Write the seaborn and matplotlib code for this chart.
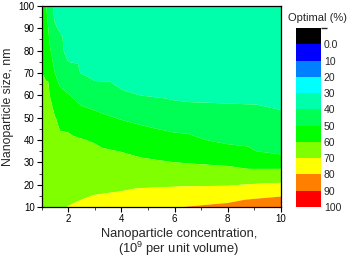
import numpy as np
import matplotlib
matplotlib.use("Agg")
import matplotlib.pyplot as plt
import matplotlib.tri as mtri
import seaborn as sns
from matplotlib.colors import ListedColormap, BoundaryNorm
from matplotlib.ticker import MultipleLocator
import matplotlib.colorbar as mcolorbar

# ---- data ----
concentration = [1, 1.25, 1.5, 2, 3, 4, 6, 8, 10]          # 10^9 per unit volume
size_nm = [10, 15, 20, 25, 30, 35, 40, 50, 60, 70, 80, 90, 100]
optimal_pct = [
    [68.0, 67.5, 68.0, 70.2, 72.0, 75.0, 79.3, 83.1, 90.3],   # 10 nm
    [67.5, 67.0, 67.0, 68.3, 70.2, 71.2, 73.5, 74.5, 79.3],   # 15
    [67.0, 66.5, 66.0, 66.8, 68.0, 68.3, 69.2, 69.5, 71.2],   # 20
    [66.5, 66.0, 65.0, 65.3, 65.8, 65.5, 64.4, 63.5, 63.5],   # 25
    [66.0, 65.5, 64.0, 64.0, 63.7, 62.6, 60.0, 58.3, 55.0],   # 30
    [65.5, 64.8, 63.3, 62.5, 61.5, 59.8, 56.5, 52.5, 48.0],   # 35
    [65.0, 64.0, 62.5, 61.8, 59.3, 56.5, 52.5, 48.5, 46.5],   # 40
    [63.5, 62.5, 60.3, 56.5, 52.6, 49.3, 45.0, 43.5, 41.3],   # 50
    [62.0, 61.5, 55.0, 50.6, 44.5, 41.0, 38.5, 38.0, 37.5],   # 60
    [60.1, 59.0, 50.0, 42.5, 37.5, 37.2, 36.0, 35.5, 35.0],   # 70
    [59.3, 53.0, 45.5, 37.5, 36.5, 35.0, 34.0, 33.5, 33.0],   # 80
    [58.5, 50.0, 41.0, 36.5, 34.5, 33.5, 32.5, 32.0, 31.5],   # 90
    [57.5, 47.0, 37.0, 35.0, 33.0, 32.5, 31.5, 31.0, 30.5],   # 100
]
levels = [-10, 0, 10, 20, 30, 40, 50, 60, 70, 80, 90, 100]
level_labels = ["0.0", "10", "20", "30", "40", "50", "60", "70", "80", "90", "100"]
level_colors = ["#000000", "#0000FF", "#0080FF", "#00FFFF", "#00FFAA", "#00FF55",
                "#00FF00", "#80FF00", "#FFFF00", "#FF8000", "#FF0000"]

# ---- style ----
sns.set_theme(style="ticks")
plt.rcParams["font.family"] = ["Liberation Sans", "DejaVu Sans"]
plt.rcParams["mathtext.fontset"] = "custom"
plt.rcParams["mathtext.rm"] = "Liberation Sans"
plt.rcParams["mathtext.it"] = "Liberation Sans:italic"

fig = plt.figure(figsize=(3.5, 2.6), dpi=100)
ax = fig.add_axes([41.6 / 350, 53 / 260, (281 - 41.6) / 350, (207 - 6) / 260])

X, Y = np.meshgrid(concentration, size_nm)
Z = np.array(optimal_pct)
cmap = ListedColormap(level_colors)
norm = BoundaryNorm(levels, cmap.N)

# linear interpolation of the read grid done in log-concentration space
tri_log = mtri.Triangulation(np.log10(X.ravel()), Y.ravel())
refiner = mtri.UniformTriRefiner(tri_log)
interp = mtri.LinearTriInterpolator(tri_log, Z.ravel())
tri_ref, z_ref = refiner.refine_field(Z.ravel(), triinterpolator=interp, subdiv=3)
tri_plot = mtri.Triangulation(10 ** tri_ref.x, tri_ref.y, tri_ref.triangles)
ax.tricontourf(tri_plot, z_ref, levels=levels, cmap=cmap, norm=norm, antialiased=True)

ax.set_xlim(1, 10)
ax.set_ylim(10, 100)
ax.xaxis.set_major_locator(MultipleLocator(2))
ax.xaxis.set_minor_locator(MultipleLocator(1))
ax.yaxis.set_major_locator(MultipleLocator(10))
ax.yaxis.set_minor_locator(MultipleLocator(5))
ax.tick_params(which="major", direction="out", length=3.5, width=0.8, labelsize=7, pad=1.5, colors="black")
ax.tick_params(which="minor", direction="out", length=2, width=0.6)
for s in ax.spines.values():
    s.set_visible(True)
    s.set_linewidth(0.9)
    s.set_color("black")
ax.set_ylabel("Nanoparticle size, nm", fontsize=8.8, labelpad=3)
fig.text(179 / 350, 1 - 243 / 260, "Nanoparticle concentration,\n(10$^{9}$ per unit volume)",
         ha="center", va="center", multialignment="center", fontsize=9.3, linespacing=1.05)

# ---- discrete legend ----
cax = fig.add_axes([296 / 350, 53 / 260, 25 / 350, (207 - 28) / 260])
cb = mcolorbar.ColorbarBase(cax, cmap=cmap, norm=norm, boundaries=levels,
                            ticks=levels[1:], spacing="uniform", orientation="vertical")
cb.outline.set_visible(False)
cax.invert_yaxis()
cax.set_yticklabels(level_labels)
cax.tick_params(length=0, labelsize=7.5, pad=2)
fig.text(318 / 350, 1 - 18 / 260, "Optimal (%)", ha="center", va="center", fontsize=8)

fig.savefig("out.png", dpi=100)
